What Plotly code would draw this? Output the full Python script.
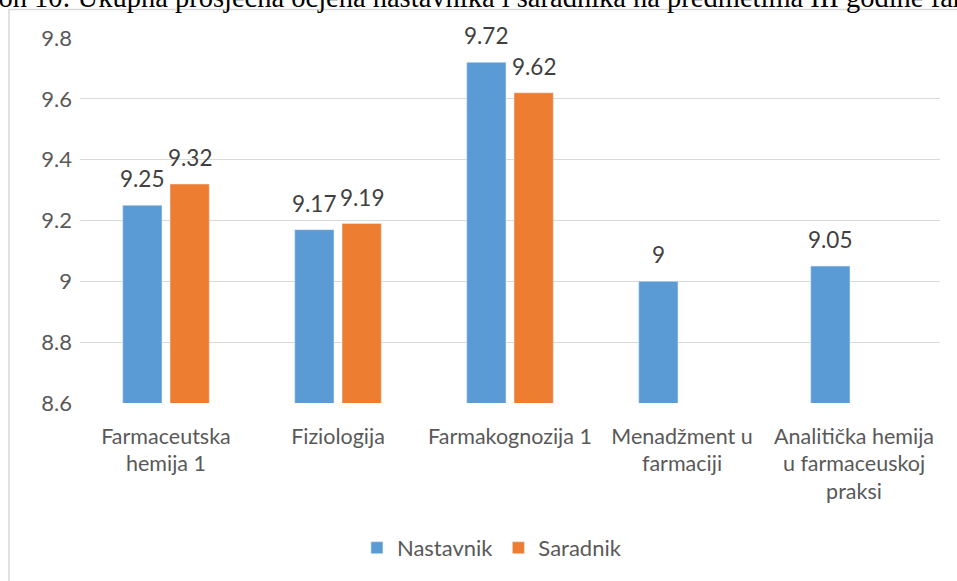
import plotly.graph_objects as go

categories = ["Farmaceutska<br>hemija 1", "Fiziologija", "Farmakognozija 1",
              "Menadžment u<br>farmaciji", "Analitička hemija<br>u farmaceuskoj<br>praksi"]
nastavnik = [9.25, 9.17, 9.72, 9.0, 9.05]
saradnik = [9.32, 9.19, 9.62, None, None]
y_ticks = [8.6, 8.8, 9.0, 9.2, 9.4, 9.6, 9.8]
y_tick_labels = ["8.6", "8.8", "9", "9.2", "9.4", "9.6", "9.8"]
title_text = "Grafikon 10: Ukupna prosječna ocjena nastavnika i saradnika na predmetima III godine farmacije"

FONT = "Lato, Arial"
FS = 21.5
BARGAP = 0.45
PLOT_W = 860

fig = go.Figure()
fig.add_trace(go.Bar(name="Nastavnik", x=categories, y=nastavnik, marker_color="#5B9BD5"))
fig.add_trace(go.Bar(name="Saradnik", x=categories, y=saradnik, marker_color="#ED7D31"))

# data labels placed above each bar
slot_off = (1 - BARGAP) * (PLOT_W / len(categories)) / 4
annotations = []
for series, sign in ((nastavnik, -1), (saradnik, 1)):
    for cat, v in zip(categories, series):
        if v is None:
            continue
        annotations.append(dict(x=cat, y=v, xref="x", yref="y", text=f"{v:g}",
                                showarrow=False, xshift=sign * slot_off, yshift=11,
                                yanchor="bottom",
                                font=dict(family=FONT, size=22.5, color="#404040")))

annotations.append(dict(text=title_text, xref="paper", yref="paper",
                        x=(-78 - 80) / 860, xanchor="left",
                        y=1 + (38 - 15) / 365, yanchor="bottom", showarrow=False,
                        font=dict(family="Liberation Serif, Times New Roman, serif",
                                  size=28.5, color="black")))

fig.update_layout(
    width=957, height=581,
    margin=dict(l=80, r=17, t=38, b=178, autoexpand=False),
    paper_bgcolor="white", plot_bgcolor="white",
    barmode="group", bargap=BARGAP, bargroupgap=0.17,
    font=dict(family=FONT, size=FS, color="#595959"),
    showlegend=True,
    legend=dict(orientation="h", x=0.479, xanchor="center", y=-0.397, yanchor="middle",
                font=dict(size=22, color="#595959", family=FONT), itemwidth=30),
    xaxis=dict(showline=False, ticks="", automargin=False, ticklabelstandoff=18,
               tickfont=dict(size=FS, color="#595959")),
    yaxis=dict(range=[8.6, 9.8], tickvals=y_ticks, ticktext=y_tick_labels, automargin=False,
               showgrid=True, gridcolor="#D9D9D9", gridwidth=1, zeroline=False,
               ticks="", ticklabelstandoff=7, tickfont=dict(size=22, color="#595959")),
    shapes=[dict(type="rect", xref="paper", yref="paper",
                 x0=(9 - 80) / 860, x1=1.5, y0=-1.5, y1=1 + (38 - 9.5) / 365,
                 line=dict(color="#D9D9D9", width=1.5), layer="below")],
    annotations=annotations,
)
fig.update_xaxes(showgrid=False)

fig.write_html("out.html", config={"displayModeBar": False},
               post_script="document.body.style.margin='0';")
